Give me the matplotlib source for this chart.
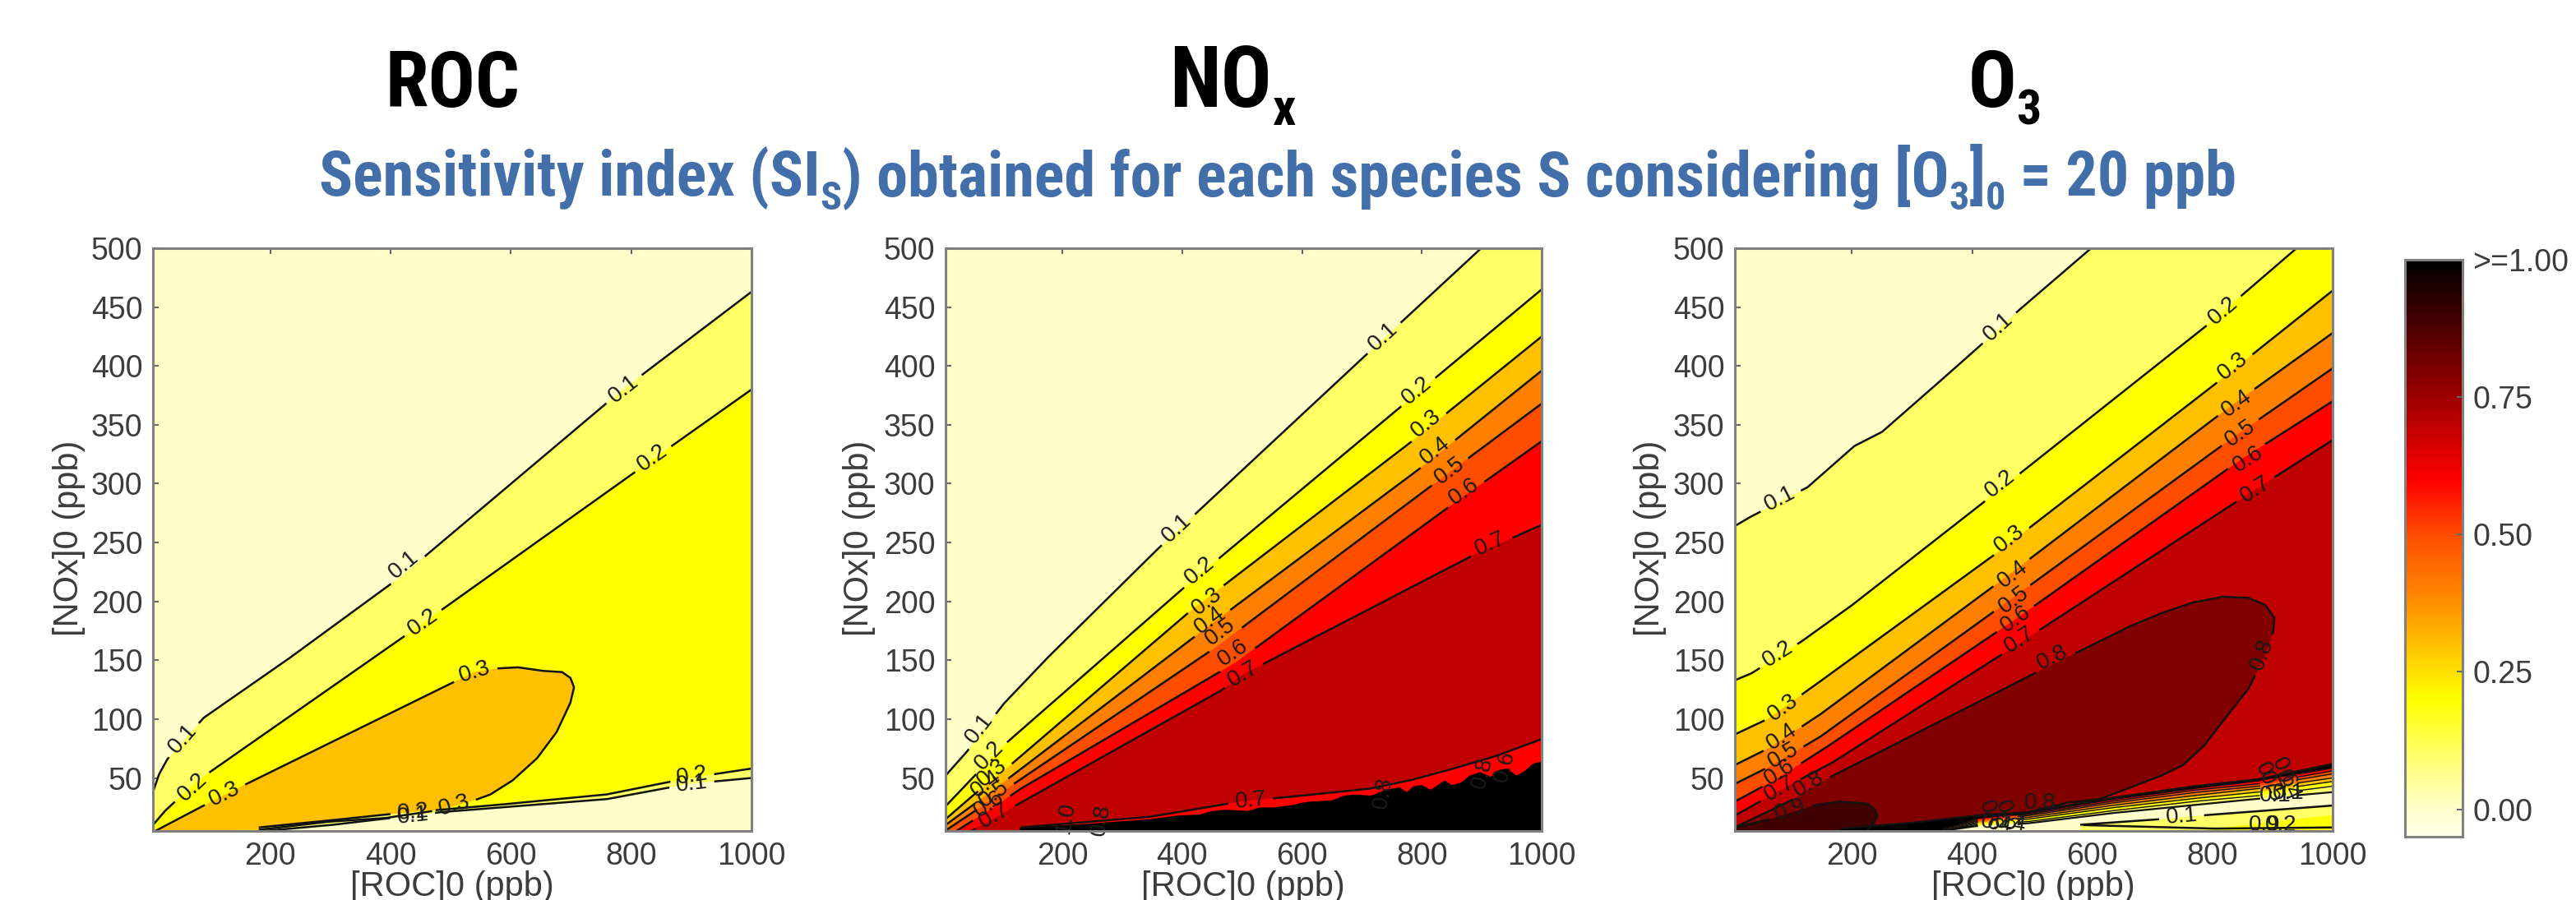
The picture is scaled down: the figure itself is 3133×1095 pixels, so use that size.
import numpy as np
import matplotlib
matplotlib.use("Agg")
import matplotlib.pyplot as plt
from matplotlib.colors import LinearSegmentedColormap

W, H = 3133, 1095
XMIN, XMAX, YMIN, YMAX = 5, 1000, 5, 500

band_colors = ['#ffffcc', '#ffff66', '#ffff00', '#ffc000', '#ff8000', '#ff4d00',
               '#ff0000', '#c00000', '#800000', '#400000', '#000000']
x_ticks = [200, 400, 600, 800, 1000]
y_ticks = [50, 100, 150, 200, 250, 300, 350, 400, 450, 500]
cbar_ticks = [0.0, 0.25, 0.5, 0.75, 1.0]
cbar_labels = ['0.00', '0.25', '0.50', '0.75', '>=1.00']
cbar_levels = [-0.05, 0, .1, .2, .3, .4, .5, .6, .7, .8, .9, 1.0]
cbar_colors = ['#ffffe8'] + band_colors

# ROC panel, contours
roc_x01 = [5, 15, 29, 89, 227, 417, 786, 1000]
roc_y01 = [38, 53, 66, 101, 150, 221, 380, 463]
roc_x02 = [5, 25, 80, 447, 837, 1000]
roc_y02 = [10, 22, 48, 179, 321, 380]
roc_x03 = [9, 117, 539, 575, 612, 653, 685, 699, 705, 699, 676, 644, 603, 566, 539, 484, 392, 300, 181]
roc_y03 = [5, 34, 140, 143, 144, 141, 140, 135, 127, 114, 89, 67, 48, 36, 31, 23, 16, 13, 6]
roc_x02b = [181, 300, 392, 575, 759, 896, 1000]
roc_y02b = [8, 14, 19, 27, 36, 50, 58]
roc_x01b = [190, 300, 484, 759, 896, 1000]
roc_y01b = [5, 10, 21, 32, 45, 50]

# NOx panel
nox_x01 = [5, 40, 102, 173, 356, 706, 899]
nox_y01 = [52, 72, 113, 151, 243, 409, 500]
nox_x02 = [5, 48, 107, 399, 764, 1000]
nox_y02 = [26, 49, 80, 210, 365, 465]
nox_x03 = [5, 48, 111, 414, 781, 1000]
nox_y03 = [15, 34, 60, 192, 335, 425]
nox_x04 = [5, 48, 111, 431, 797, 1000]
nox_y04 = [10, 26, 50, 174, 313, 396]
nox_x05 = [7, 57, 119, 456, 818, 1000]
nox_y05 = [6, 23, 45, 161, 299, 368]
nox_x06 = [23, 73, 131, 489, 839, 1000]
nox_y06 = [5, 21, 41, 148, 278, 336]
nox_x07 = [48, 94, 127, 464, 498, 881, 1000]
nox_y07 = [5, 18, 28, 124, 137, 238, 265]
nox_x07b = [131, 346, 498, 600, 714, 780, 839, 920, 1000]
nox_y07b = [8, 17, 30, 35, 41, 48, 56, 68, 83]
nox_x_black = [129, 241, 346, 390, 430, 450, 472, 510, 530, 554, 585, 600, 614, 650, 670, 689,
               715, 740, 763, 775, 786, 800, 815, 838, 850, 865, 880, 897, 915, 930, 942, 958,
               972, 985, 1000]
nox_y_black = [8, 11, 15, 18, 19, 22, 23, 22, 25, 25, 27, 29, 30, 31, 35, 36,
               35, 40, 42, 38, 43, 44, 40, 48, 44, 46, 52, 55, 51, 57, 58, 52,
               56, 62, 64]

# O3 panel
o3_x01 = [5, 28, 126, 204, 250, 333, 415, 477, 598]
o3_y01 = [264, 271, 297, 332, 344, 381, 418, 447, 500]
o3_x02 = [5, 33, 116, 198, 426, 792, 940]
o3_y02 = [133, 139, 166, 196, 287, 435, 500]
o3_x03 = [5, 59, 136, 446, 818, 1000]
o3_y03 = [87, 100, 128, 243, 390, 464]
o3_x04 = [5, 64, 147, 457, 828, 1000]
o3_y04 = [61, 76, 104, 221, 365, 428]
o3_x05 = [5, 64, 147, 457, 839, 1000]
o3_y05 = [45, 60, 85, 199, 341, 398]
o3_x06 = [5, 74, 157, 467, 849, 1000]
o3_y06 = [30, 49, 76, 183, 321, 370]
o3_x07 = [5, 85, 167, 477, 865, 1000]
o3_y07 = [18, 41, 63, 164, 293, 337]
o3_x08 = [5, 95, 157, 508, 663, 715, 767, 818, 860, 888, 903, 901, 885, 860, 823, 787, 751,
          715, 612, 559, 478, 404, 300]
o3_y08 = [8, 30, 49, 140, 179, 190, 199, 204, 203, 197, 186, 174, 151, 126, 102, 78, 61,
          52, 32, 29, 19, 18, 5]
o3_x09 = [5, 63, 139, 180, 227, 238, 242, 238, 225]
o3_y09 = [8, 15, 27, 30, 28, 23, 18, 13, 5]
# squeezed contours in the wedge along the bottom
o3_wx = [181, 300, 404, 493, 630, 768, 877, 1000]
o3_w_edge = [7, 12, 18, 21, 33, 43, 49, 62]
o3_wx2 = [350, 404, 493, 630, 768, 877, 1000]
o3_w07 = [6, 15, 20, 31.5, 41, 47.5, 58.5]
o3_w06 = [6, 14, 19, 30, 39.5, 45, 56]
o3_w05 = [6, 13, 18, 28.5, 37.5, 43, 53.5]
o3_w04 = [5, 12, 16.5, 26.5, 35, 41, 50]
o3_w03 = [5, 11, 15, 24.5, 32.5, 38, 47]
o3_w02 = [5, 10, 13, 22, 30, 35, 43]
o3_w01 = [5, 9, 11.5, 20, 27, 32.4, 38]
o3_wgaps = [(410, 475), (880, 940)]
o3_x01b = [580, 713, 790, 1000]
o3_y01b = [10.3, 15, 18.5, 26.6]
o3_x02b = [786, 859, 1000]
o3_y02b = [5.7, 10.3, 18.5]
o3_x03b = [585, 800, 1000]
o3_y03b = [10, 7, 8]

# contour labels: text, x, y, name of the contour they sit on
roc_labels = [('0.1', 788, 380, '01'), ('0.1', 422, 231, '01'), ('0.1', 55, 83, '01'),
              ('0.2', 835, 322, '02'), ('0.2', 454, 182, '02'), ('0.2', 71, 42, '02'),
              ('0.3', 540, 140, '03'), ('0.3', 124, 36, '03'), ('0.3', 506, 27, '03'),
              ('0.2', 901, 52, '02b'), ('0.1', 901, 45, '01b'),
              ('0.2', 437, 21, '02b'), ('0.1', 437, 18, '01b')]
nox_labels = [('0.1', 735, 425, '01'), ('0.1', 391, 262, '01'), ('0.1', 61, 92, '01'),
              ('0.2', 792, 379, '02'), ('0.2', 429, 226, '02'), ('0.2', 78, 69, '02'),
              ('0.3', 807, 351, '03'), ('0.3', 442, 200, '03'), ('0.3', 82, 54, '03'),
              ('0.4', 822, 328, '04'), ('0.4', 446, 184, '04'), ('0.4', 73, 45, '04'),
              ('0.5', 846, 311, '05'), ('0.5', 463, 174, '05'), ('0.5', 86, 36, '05'),
              ('0.6', 871, 293, '06'), ('0.6', 485, 156, '06'), ('0.6', 77, 28, '06'),
              ('0.7', 914, 249, '07'), ('0.7', 502, 138, '07'), ('0.7', 86, 18, '07'),
              ('0.7', 514, 31, '07b')]
o3_labels = [('0.1', 444, 433, '01'), ('0.1', 80, 287, '01'),
             ('0.2', 818, 447, '02'), ('0.2', 446, 300, '02'), ('0.2', 76, 155, '02'),
             ('0.3', 834, 400, '03'), ('0.3', 462, 253, '03'), ('0.3', 85, 110, '03'),
             ('0.4', 841, 368, '04'), ('0.4', 467, 223, '04'), ('0.4', 83, 85, '04'),
             ('0.5', 847, 343, '05'), ('0.5', 469, 201, '05'), ('0.5', 85, 69, '05'),
             ('0.6', 859, 321, '06'), ('0.6', 472, 185, '06'), ('0.6', 80, 55, '06'),
             ('0.7', 872, 295, '07'), ('0.7', 479, 167, '07'), ('0.7', 80, 41, '07'),
             ('0.8', 534, 152, '08'), ('0.8', 883, 155, '08'), ('0.8', 128, 45, '08'),
             ('0.9', 97, 23, '09'), ('0.1', 749, 17, '01b')]
# labels that sit in the crowded parts, with their own angle
nox_extra = [('1.0', 206, 16, 80), ('0.8', 265, 14, 80), ('0.8', 735, 37, 80),
             ('0.8', 901, 54, 75), ('0.6', 939, 60, 75)]
o3_extra = [('0.8', 513, 29, 0), ('0.6', 429, 18, -70), ('0.6', 457, 18, -70),
            ('0.4', 441, 11, -10), ('0.4', 464, 11, -10),
            ('0.7', 891, 50, -65), ('0.6', 918, 54, -65), ('0.5', 897, 42, -65),
            ('0.4', 925, 44, -65), ('0.1', 905, 35, 0), ('0.1', 927, 37, 0),
            ('0.9', 887, 10, 0), ('0.2', 914, 10, 0)]

plt.rcParams['font.family'] = ['Liberation Sans']
TICK_GREY = '#3c3c3c'
NARROW = ['Roboto Condensed', 'Open Sans Condensed', 'Open Sans', 'DejaVu Sans']
LABEL_SIZE = 20


def make_axes(left, right, top=302, bottom=1011):
    return fig.add_axes([left / W, 1 - bottom / H, (right - left) / W, (bottom - top) / H])


def fill_below(ax, xs, ys, color):
    xs, ys = list(xs), list(ys)
    if ys[-1] >= YMAX:
        xs.append(XMAX); ys.append(YMAX)
    px = xs + [XMAX, xs[0]]
    py = ys + [YMIN, YMIN]
    ax.fill(px, py, color=color, lw=0, zorder=2)


def draw_line(ax, xs, ys, labels=(), lw=1.8, gaps=()):
    # densify in pixels so the gap under a label can be cut out
    to_px = ax.transData.transform
    pts = to_px(np.column_stack([xs, ys]))
    seg = np.r_[0, np.cumsum(np.hypot(*np.diff(pts, axis=0).T))]
    t = np.arange(0, seg[-1] + 1, 1.0)
    dense = np.column_stack([np.interp(t, seg, pts[:, 0]), np.interp(t, seg, pts[:, 1])])
    keep = np.ones(len(dense), bool)
    data_pts = ax.transData.inverted().transform(dense)
    for text, lx, ly in labels:
        c = to_px((lx, ly))
        d = np.hypot(*(dense - c).T)
        i = int(np.argmin(d))
        a, b = dense[max(i - 8, 0)], dense[min(i + 8, len(dense) - 1)]
        ang = np.degrees(np.arctan2(b[1] - a[1], b[0] - a[0]))
        if ang > 90:
            ang -= 180
        if ang < -90:
            ang += 180
        keep[d < 27] = False
        ax.text(lx, ly, text, rotation=ang, rotation_mode='anchor', ha='center', va='center',
                fontsize=LABEL_SIZE, color='#1a1a1a', zorder=6, clip_on=True)
    xp = data_pts[:, 0].copy()
    yp = data_pts[:, 1].copy()
    for g0, g1 in gaps:
        keep[(xp > g0) & (xp < g1)] = False
    xp[~keep] = np.nan
    yp[~keep] = np.nan
    ax.plot(xp, yp, color='#111111', lw=lw, zorder=5, solid_capstyle='butt')


def finish_axes(ax):
    ax.set_xlim(XMIN, XMAX)
    ax.set_ylim(YMIN, YMAX)
    ax.set_facecolor(band_colors[0])
    ax.set_xticks(x_ticks)
    ax.set_yticks(y_ticks)
    ax.tick_params(direction='in', length=5, width=1.5, top=True, right=True, color='#666666',
                   labelsize=27, labelcolor=TICK_GREY, pad=9, zorder=7)
    for s in ax.spines.values():
        s.set_color('#808080')
        s.set_linewidth(2.2)
        s.set_zorder(8)


def lab(labels, name):
    return [(t, x, y) for t, x, y, n in labels if n == name]


def text_px(x, y, s, **kw):
    return fig.text(x / W, 1 - y / H, s, **kw)


def place_runs(x, y, runs, size, sub_size, drop, color, target=None):
    r = fig.canvas.get_renderer()
    x0 = x
    made = []
    for s, sub in runs:
        t = text_px(x, y + (drop if sub else 0), s, family=NARROW, fontweight='bold',
                    fontsize=sub_size if sub else size, color=color, va='baseline', ha='left')
        x += t.get_window_extent(r).width
        made.append(t)
    # whatever font was found, keep the line on the width it has in the picture
    if target is not None:
        k = target / (x - x0)
        for t in made:
            t.remove()
        place_runs(x0, y, runs, size * k, sub_size * k, drop, color)


fig = plt.figure(figsize=(W / 100, H / 100), dpi=100, facecolor='white')

# ROC
ax1 = make_axes(186, 914)
finish_axes(ax1)
fill_below(ax1, roc_x01, roc_y01, band_colors[1])
fill_below(ax1, roc_x02, roc_y02, band_colors[2])
ax1.fill(roc_x03, roc_y03, color=band_colors[3], lw=0, zorder=3)
ax1.fill(roc_x02b + [XMAX, 190], roc_y02b + [YMIN, YMIN], color=band_colors[1], lw=0, zorder=3)
ax1.fill(roc_x01b + [XMAX], roc_y01b + [YMIN], color=band_colors[0], lw=0, zorder=3)
draw_line(ax1, roc_x01, roc_y01, lab(roc_labels, '01'))
draw_line(ax1, roc_x02, roc_y02, lab(roc_labels, '02'))
draw_line(ax1, roc_x03, roc_y03, lab(roc_labels, '03'))
draw_line(ax1, roc_x02b, roc_y02b, lab(roc_labels, '02b'))
draw_line(ax1, roc_x01b, roc_y01b, lab(roc_labels, '01b'))

# NOx
ax2 = make_axes(1150, 1875)
finish_axes(ax2)
nox_lines = [('01', nox_x01, nox_y01), ('02', nox_x02, nox_y02), ('03', nox_x03, nox_y03),
             ('04', nox_x04, nox_y04), ('05', nox_x05, nox_y05), ('06', nox_x06, nox_y06),
             ('07', nox_x07, nox_y07)]
for i, (name, xs, ys) in enumerate(nox_lines):
    fill_below(ax2, xs, ys, band_colors[i + 1])
ax2.fill(nox_x07b + [XMAX, 131], nox_y07b + [YMIN, YMIN], color=band_colors[6], lw=0, zorder=3)
ax2.fill(nox_x_black + [XMAX, 129], nox_y_black + [YMIN, YMIN], color='black', lw=0, zorder=4)
for name, xs, ys in nox_lines:
    draw_line(ax2, xs, ys, lab(nox_labels, name))
draw_line(ax2, nox_x07b, nox_y07b, lab(nox_labels, '07b'))
for t, x, y, rot in nox_extra:
    ax2.text(x, y, t, rotation=rot, ha='center', va='center', fontsize=LABEL_SIZE, color='#1a1a1a', zorder=6)

# O3
ax3 = make_axes(2110, 2837)
finish_axes(ax3)
o3_lines = [('01', o3_x01, o3_y01), ('02', o3_x02, o3_y02), ('03', o3_x03, o3_y03),
            ('04', o3_x04, o3_y04), ('05', o3_x05, o3_y05), ('06', o3_x06, o3_y06),
            ('07', o3_x07, o3_y07)]
for i, (name, xs, ys) in enumerate(o3_lines):
    fill_below(ax3, xs, ys, band_colors[i + 1])
ax3.fill(o3_x08 + [5], o3_y08 + [5], color=band_colors[8], lw=0, zorder=3)
ax3.fill(o3_x09 + [5], o3_y09 + [5], color=band_colors[9], lw=0, zorder=3)
ax3.fill(o3_wx + [XMAX, 181], o3_w_edge + [YMIN, YMIN], color='black', lw=0, zorder=3)
wedge = [o3_w07, o3_w06, o3_w05, o3_w04, o3_w03, o3_w02, o3_w01]
wedge_colors = [band_colors[6], band_colors[5], band_colors[4], band_colors[3], band_colors[2],
                band_colors[1], band_colors[0]]
for ys, c in zip(wedge, wedge_colors):
    ax3.fill(o3_wx2 + [XMAX, 350], ys + [YMIN, YMIN], color=c, lw=0, zorder=3)
ax3.fill(o3_x01b + [XMAX, 580], o3_y01b + [YMIN, YMIN], color=band_colors[1], lw=0, zorder=3)
ax3.fill(o3_x02b + [XMAX], o3_y02b + [YMIN], color=band_colors[2], lw=0, zorder=3)
for name, xs, ys in o3_lines:
    draw_line(ax3, xs, ys, lab(o3_labels, name))
draw_line(ax3, o3_x08[:-1], o3_y08[:-1], lab(o3_labels, '08'))
draw_line(ax3, o3_x09, o3_y09, lab(o3_labels, '09'))
draw_line(ax3, o3_wx, o3_w_edge, lw=1.6)
for ys in wedge[:-1]:
    draw_line(ax3, o3_wx2, ys, lw=1.0, gaps=o3_wgaps)
draw_line(ax3, o3_wx2, o3_w01, lw=1.6, gaps=o3_wgaps)
draw_line(ax3, o3_x01b, o3_y01b, lab(o3_labels, '01b'))
draw_line(ax3, o3_x03b, o3_y03b)
for t, x, y, rot in o3_extra:
    ax3.text(x, y, t, rotation=rot, ha='center', va='center', fontsize=LABEL_SIZE, color='#1a1a1a', zorder=6)

# axis labels go on the figure since the bottom one runs off the page
for cx in (550, 1512, 2473):
    text_px(cx, 1079, '[ROC]0 (ppb)', fontsize=30, color=TICK_GREY, ha='center', va='center')
for cx in (84, 1045, 2007):
    text_px(cx, 655, '[NOx]0 (ppb)', fontsize=30, color=TICK_GREY, ha='center', va='center', rotation=90)

# colour bar
cax = fig.add_axes([2925 / W, 1 - 1018 / H, 70 / W, (1018 - 316) / H])
cmap_pos = [(v - cbar_levels[0]) / (cbar_levels[-1] - cbar_levels[0]) for v in cbar_levels]
cmap = LinearSegmentedColormap.from_list('si', list(zip(cmap_pos, cbar_colors)))
grad = np.linspace(cbar_levels[0], cbar_levels[-1], 400).reshape(-1, 1)
cax.imshow(grad, aspect='auto', origin='lower', cmap=cmap,
           extent=[0, 1, cbar_levels[0], cbar_levels[-1]])
cax.set_xticks([])
cax.yaxis.tick_right()
cax.set_yticks(cbar_ticks)
cax.set_yticklabels(cbar_labels)
cax.tick_params(direction='in', length=5, width=1.5, color='#666666', labelsize=27,
                labelcolor=TICK_GREY, pad=9)
for s in cax.spines.values():
    s.set_color('#808080')
    s.set_linewidth(2.2)

# titles
BLUE = '#426fa9'
fig.canvas.draw()
place_runs(469, 130, [('ROC', False)], 72, 44, 22, 'black', target=164)
place_runs(1422, 130, [('NO', False), ('x', True)], 72, 44, 22, 'black', target=153)
place_runs(2394, 130, [('O', False), ('3', True)], 72, 44, 22, 'black', target=89)
place_runs(388, 238, [('Sensitivity index (SI', False), ('S', True),
                      (') obtained for each species S considering [O', False), ('3', True),
                      (']', False), ('0', True), (' = 20 ppb', False)], 57, 36, 17, BLUE, target=2328)

fig.savefig('out.png', dpi=100, facecolor='white')
